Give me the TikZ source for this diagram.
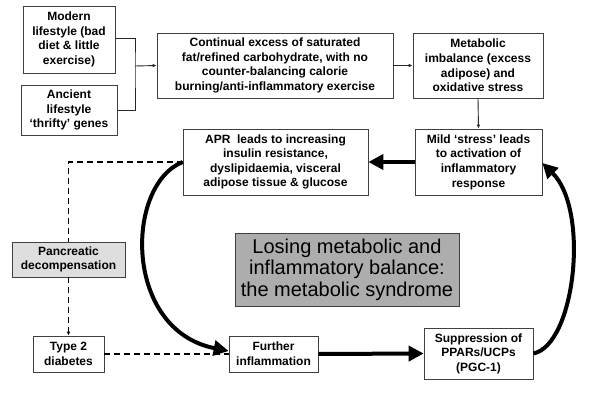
\documentclass[tikz,border=0pt]{standalone}
\usepackage{fontspec}
\setmainfont{Liberation Sans}
\usetikzlibrary{arrows.meta}
\begin{document}
\begin{tikzpicture}[x=1pt,y=-1pt,
  box/.style={draw=black!75, line width=0.7pt, align=center, font=\fontsize{12}{14.6}\selectfont\bfseries, inner sep=0pt},
  thinline/.style={draw=black!85, line width=0.9pt},
  thinarr/.style={thinline, -{Latex[length=4pt,width=3.5pt]}},
  bigarr/.style={line width=4pt, -{Triangle[length=15pt,width=15pt]}},
  dashline/.style={line width=1.3pt, dash pattern=on 6pt off 4pt}]
\useasboundingbox (0,0) rectangle (600,415);
\node[box, minimum width=92pt, minimum height=67pt] (modern) at (69,39.5) {Modern\\lifestyle (bad\\diet \& little\\exercise)};
\node[box, minimum width=96pt, minimum height=50pt] (ancient) at (69,110) {Ancient\\lifestyle\\‘thrifty’ genes};
\node[box, minimum width=236pt, minimum height=65pt] (cont) at (275,65.5) {Continual excess of saturated\\fat/refined carbohydrate, with no\\counter-balancing calorie\\burning/anti-inflammatory exercise};
\node[box, minimum width=130pt, minimum height=65pt] (metab) at (478,65.5) {Metabolic\\imbalance (excess\\adipose) and\\oxidative stress};
\node[box, minimum width=127pt, minimum height=66pt] (mild) at (478.5,162) {Mild ‘stress’ leads\\to activation of\\inflammatory\\response};
\node[box, minimum width=185pt, minimum height=66pt] (apr) at (275.5,162) {APR\ \ leads to increasing\\insulin resistance,\\dyslipidaemia, visceral\\adipose tissue \& glucose};
\node[box, fill=black!32, minimum width=224pt, minimum height=73pt, font=\fontsize{20}{21.5}\selectfont] (centre) at (347,269.5) {Losing metabolic and\\inflammatory balance:\\the metabolic syndrome};
\node[box, fill=black!13, minimum width=113pt, minimum height=35pt] (panc) at (68.5,259.5) {Pancreatic\\decompensation};
\node[box, minimum width=71pt, minimum height=36pt] (type) at (68.5,354) {Type 2\\diabetes};
\node[box, minimum width=89pt, minimum height=36pt] (further) at (273.5,354) {Further\\inflammation};
\node[box, minimum width=109pt, minimum height=51pt] (supp) at (478.5,353.5) {Suppression of\\PPARs/UCPs\\(PGC-1)};
\coordinate (j) at (135,66);
\draw[thinline] (modern.east |- 0,38) -| (j) |- (ancient.east);
\draw[thinarr] (j) -- (cont.west);
\draw[thinarr] (cont.east) -- (metab.west);
\draw[thinarr] (metab.south) -- (mild.north);
\draw[bigarr] (mild.west) -- (apr.east);
\draw[dashline] (apr.west) -| (panc.north);
\draw[dashline, -{Latex[length=4pt,width=3.5pt]}] (panc.south) -- (type.north);
\draw[dashline] (type.east) -- (further.west);
\draw[bigarr] (apr.west) .. controls (125,185) and (123,330) .. (further.west |- 0,351);
\draw[bigarr] (further.east) -- (supp.west);
\draw[bigarr] (supp.east) .. controls (575,345) and (590,210) .. (mild.east |- 0,163);
\end{tikzpicture}
\end{document}
